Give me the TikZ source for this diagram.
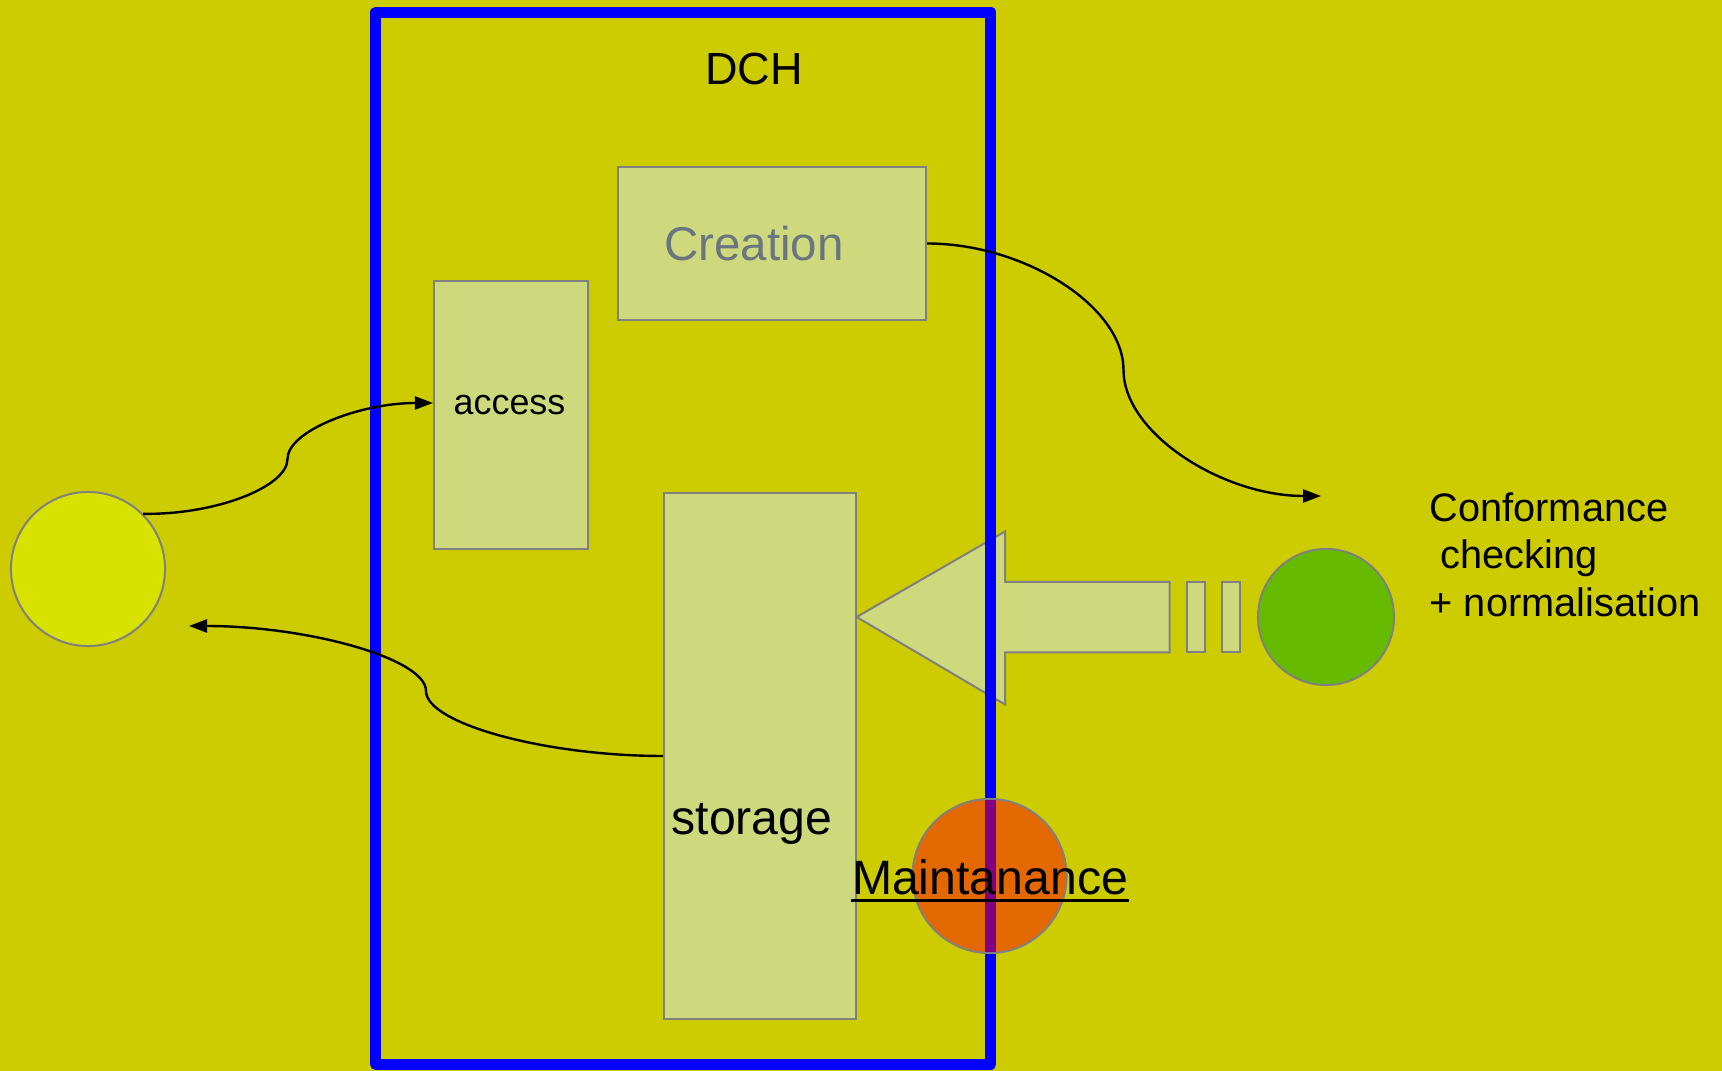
\documentclass[tikz,border=0pt]{standalone}
\usepackage{fontspec}
\setmainfont{Liberation Sans}
\usepackage{tikz}
\usetikzlibrary{arrows.meta}
\definecolor{bgolive}{RGB}{204,204,0}
\definecolor{boxfill}{RGB}{206,217,125}
\definecolor{boxline}{RGB}{128,128,128}
\definecolor{frameblue}{RGB}{0,0,255}
\definecolor{homefill}{RGB}{216,226,0}
\definecolor{checkgreen}{RGB}{102,187,0}
\definecolor{maintorange}{RGB}{227,104,0}
\definecolor{overlap}{RGB}{128,0,128}
\definecolor{creationgray}{RGB}{106,117,128}
\begin{document}
\begin{tikzpicture}[x=0.01cm,y=-0.01cm,
box/.style={rectangle,draw=boxline,fill=boxfill,line width=0.02cm,inner sep=0pt},
blob/.style n args={2}{circle,draw=boxline,fill=#1,line width=0.02cm,minimum size=#2,inner sep=0pt},
lbl/.style={anchor=base,inner sep=0pt,font=\fontsize{#1}{#1}\selectfont},
link/.style={line width=0.024cm,-{Triangle[length=0.18cm,width=0.13cm]}}]
\fill[bgolive] (0,0) rectangle (1722,1071);
\useasboundingbox (0,0) rectangle (1722,1071);
\draw[box] (856.6,617) -- (1005,531.5) -- (1005,582) -- (1169.6,582) -- (1169.6,652.5)
   -- (1005,652.5) -- (1005,704.5) -- cycle;
\foreach \x in {1187,1222} {
   \draw[box] (\x,582) rectangle ++(18,70.5);
}
\node[box,minimum width=3.08cm,minimum height=1.53cm] (creation) at (772,243.5) {};
\node[box,minimum width=1.535cm,minimum height=2.68cm] (access) at (510.75,415) {};
\node[box,minimum width=1.915cm,minimum height=5.26cm] (storage) at (759.75,756) {};
\node[blob={homefill}{1.54cm}] (home) at (88,569) {};
\node[blob={checkgreen}{1.36cm}] (check) at (1326,617) {};
\node[draw=frameblue,line width=0.11cm,line join=round,outer sep=0pt,inner sep=0pt,
   minimum width=6.146cm,minimum height=10.515cm] (dchframe) at (683.3,538.25) {};
\node[blob={maintorange}{1.54cm}] (maint) at (989.5,876) {};
\begin{scope}
   \clip (989.5,876) circle (76);
   \draw[overlap,line width=0.11cm] (dchframe.north east) -- (dchframe.south east);
\end{scope}
\coordinate (confin) at (1321,496);
\coordinate (homein) at (189,626);
\draw[link] (home.north east) .. controls (215,515) and (287.5,487) .. (287.5,459)
   .. controls (287.5,431) and (360,403) .. ([yshift=0.12cm]access.west);
\draw[link] (creation.east) .. controls (1024.7,243.5) and (1123.5,306.6) .. (1123.5,370)
   .. controls (1123.5,433) and (1222,496) .. (confin);
\draw[link] (storage.west) .. controls (545,756) and (426,723.5) .. (426,691)
   .. controls (426,658.5) and (307.5,626) .. (homein);
\node[lbl=12.8] (dchtxt) at (754,85) {DCH};
\node[lbl=13.5,text=creationgray] (creationtxt) at (754,261) {Creation};
\node[lbl=10.2] (accesstxt) at (509.5,415) {access};
\node[lbl=13.7] (storagetxt) at (752,835) {storage};
\node[lbl=13.7] (mainttxt) at (990,895) {Maintanance};
\draw[line width=0.03cm] ([yshift=-0.057cm]mainttxt.base west) -- ([yshift=-0.057cm]mainttxt.base east);
\node[anchor=north west,align=left,inner sep=0pt,font=\fontsize{11.3}{13.5}\selectfont]
   (conftxt) at (1429,492) {Conformance\\\hspace*{3.1pt}checking\\+ normalisation};
\end{tikzpicture}
\end{document}
